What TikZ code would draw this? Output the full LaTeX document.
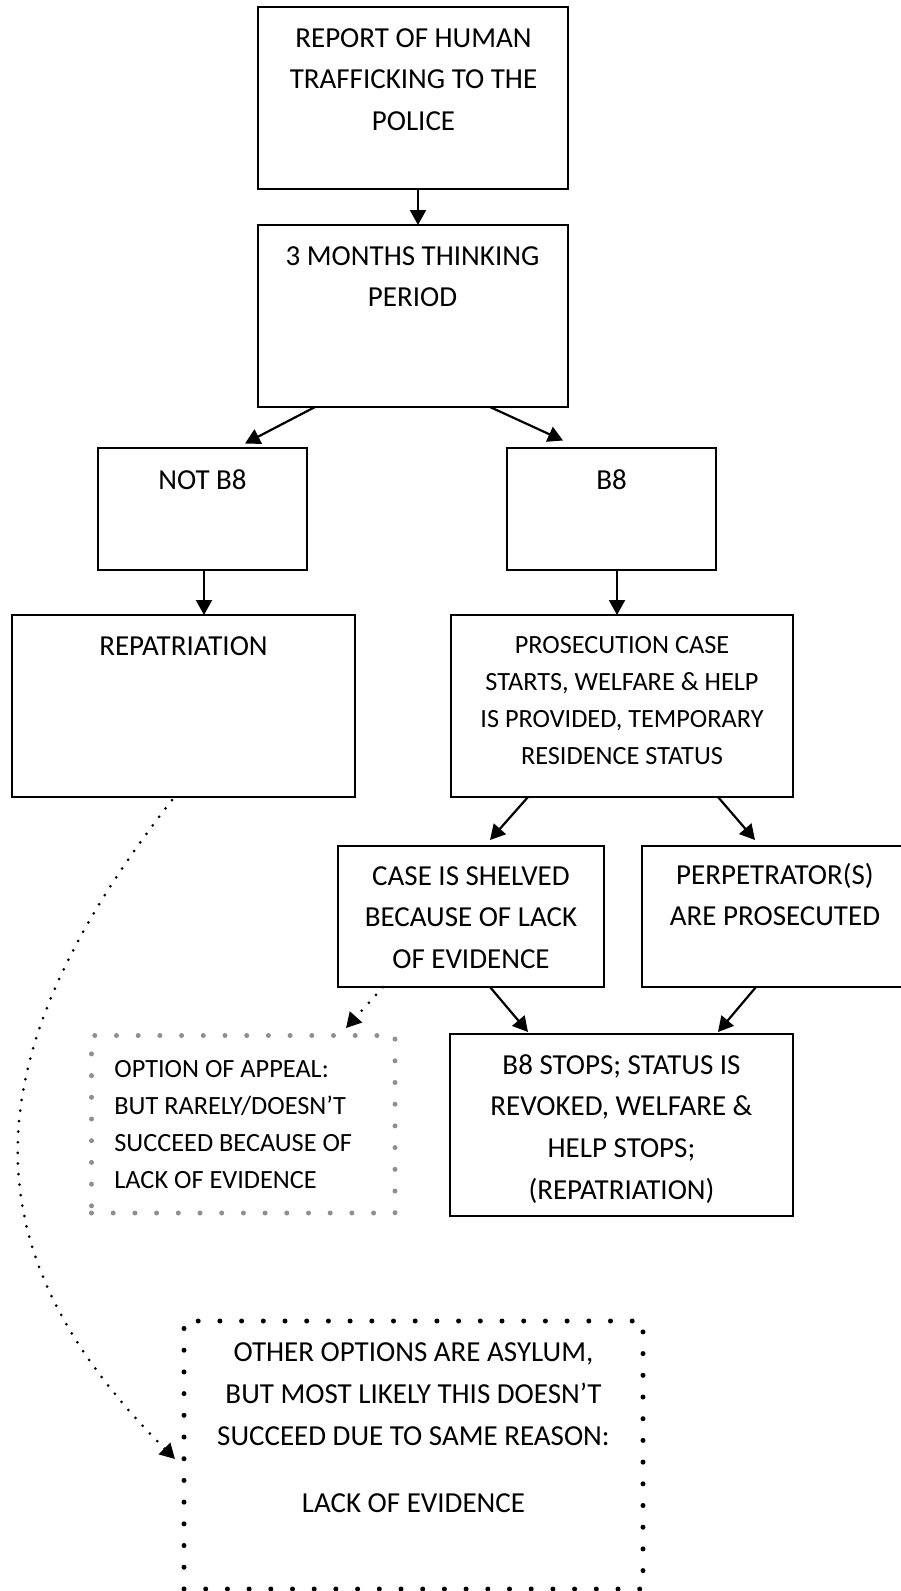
\documentclass[tikz,border=0pt]{standalone}
\usepackage{fontspec}
\setmainfont{Carlito}
\usetikzlibrary{arrows.meta,calc}
\definecolor{dotgrey}{gray}{0.56}
\begin{document}
\begin{tikzpicture}[x=0.5pt,y=-0.5pt,
  box/.style={draw, line width=1.2pt, inner sep=0pt, outer sep=0pt},
  bigtxt/.style={inner sep=0pt, align=center, anchor=north, font=\fontsize{14.5}{20.85}\selectfont},
  smalltxt/.style={inner sep=0pt, align=center, anchor=north, font=\fontsize{13.15}{18.5}\selectfont},
  conn/.style={line width=1.1pt, -{Triangle[length=7.5pt,width=8pt]}},
  dotconn/.style={line width=1.5pt, line cap=round, dash pattern=on 0pt off 5.3pt, -{Triangle[length=7.5pt,width=8pt]}},
  dotbox/.style={draw, line width=2.5pt, line cap=round, dash pattern=on 0pt off 10.85pt, inner sep=0pt, outer sep=0pt}]
\useasboundingbox (0,0) rectangle (900,1591);
\fill[white] (0,0) rectangle (900,1591);

% boxes
\node[box, minimum width=155pt, minimum height=91pt] (b1) at (413,98) {};
\node[box, minimum width=155pt, minimum height=91pt] (b2) at (413,316) {};
\node[box, minimum width=104.5pt, minimum height=61pt] (notb8) at (202.5,509) {};
\node[box, minimum width=104.5pt, minimum height=61pt] (b8) at (611.5,509) {};
\node[box, minimum width=171.5pt, minimum height=91pt] (repat) at (183.5,706) {};
\node[box, minimum width=171pt, minimum height=91pt] (pros) at (622,706) {};
\node[box, minimum width=133pt, minimum height=70.5pt] (case) at (471,916.5) {};
\node[box, minimum width=133pt, minimum height=70.5pt] (perp) at (775,916.5) {};
\node[box, minimum width=171.5pt, minimum height=91pt] (stops) at (621.5,1125) {};
\node[dotbox, draw=dotgrey, minimum width=151.75pt, minimum height=88.75pt] (appeal) at (243.25,1124.25) {};
\node[dotbox, draw=black, minimum width=229.5pt, minimum height=134pt] (asylum) at (413.5,1455) {};

% texts
\node[bigtxt] (t1) at (413.5,27.8) {REPORT OF HUMAN\\TRAFFICKING TO THE\\POLICE};
\node[bigtxt] (t2) at (412.5,245.8) {3 MONTHS THINKING\\PERIOD};
\node[bigtxt] (t3) at (202.5,468.8) {NOT B8};
\node[bigtxt] (t4) at (611.5,468.8) {B8};
\node[bigtxt] (t5) at (183.5,635.8) {REPATRIATION};
\node[smalltxt] (t6) at (622,635.7) {PROSECUTION CASE\\STARTS, WELFARE \& HELP\\IS PROVIDED, TEMPORARY\\RESIDENCE STATUS};
\node[bigtxt] (t7) at (471,865.8) {CASE IS SHELVED\\BECAUSE OF LACK\\OF EVIDENCE};
\node[bigtxt] (t8) at (775,862.6) {PERPETRATOR(S)\\ARE PROSECUTED};
\node[bigtxt] (t9) at (621.5,1053.8) {B8 STOPS; STATUS IS\\REVOKED, WELFARE \&\\HELP STOPS;\\(REPATRIATION)};
\node[smalltxt, align=left, anchor=north west] (t10) at (114,1059.7) {OPTION OF APPEAL:\\BUT RARELY/DOESN’T\\SUCCEED BECAUSE OF\\LACK OF EVIDENCE};
\node[bigtxt] (t11) at (413.5,1342.5) {OTHER OPTIONS ARE ASYLUM,\\BUT MOST LIKELY THIS DOESN’T\\SUCCEED DUE TO SAME REASON:\\[13pt]LACK OF EVIDENCE};

% connectors
\draw[conn] ($(b1.south)+(5,0)$) -- ($(b2.north)+(5,0)$);
\draw[conn] ($(b2.south west)+(57,0)$) -- ($(notb8.north)+(42.5,-4.5)$);
\draw[conn] ($(b2.south east)+(-78,0)$) -- ($(b8.north)+(-48.5,-7.5)$);
\draw[conn] ($(notb8.south)+(1.5,0)$) -- ($(repat.north)+(20.5,0)$);
\draw[conn] ($(b8.south)+(5.5,0)$) -- ($(pros.north)+(-5,0)$);
\draw[conn] ($(pros.south west)+(77,0)$) -- ($(case.north)+(19,-6)$);
\draw[conn] ($(pros.south east)+(-75,0)$) -- ($(perp.north)+(-20,-6)$);
\draw[conn] ($(case.south)+(19,0)$) -- ($(stops.north)+(-93.5,-2)$);
\draw[conn] ($(perp.south)+(-19,0)$) -- ($(stops.north)+(96.5,-2)$);
\draw[dotconn] ($(case.south west)+(45,0)$) -- ($(appeal.north east)+(-49,-7.5)$);
\draw[dotconn] ($(repat.south)+(-11.5,3)$) .. controls (-30,1059) and (-35,1249) .. ($(asylum.west)+(-9,4)$);
\end{tikzpicture}
\end{document}
